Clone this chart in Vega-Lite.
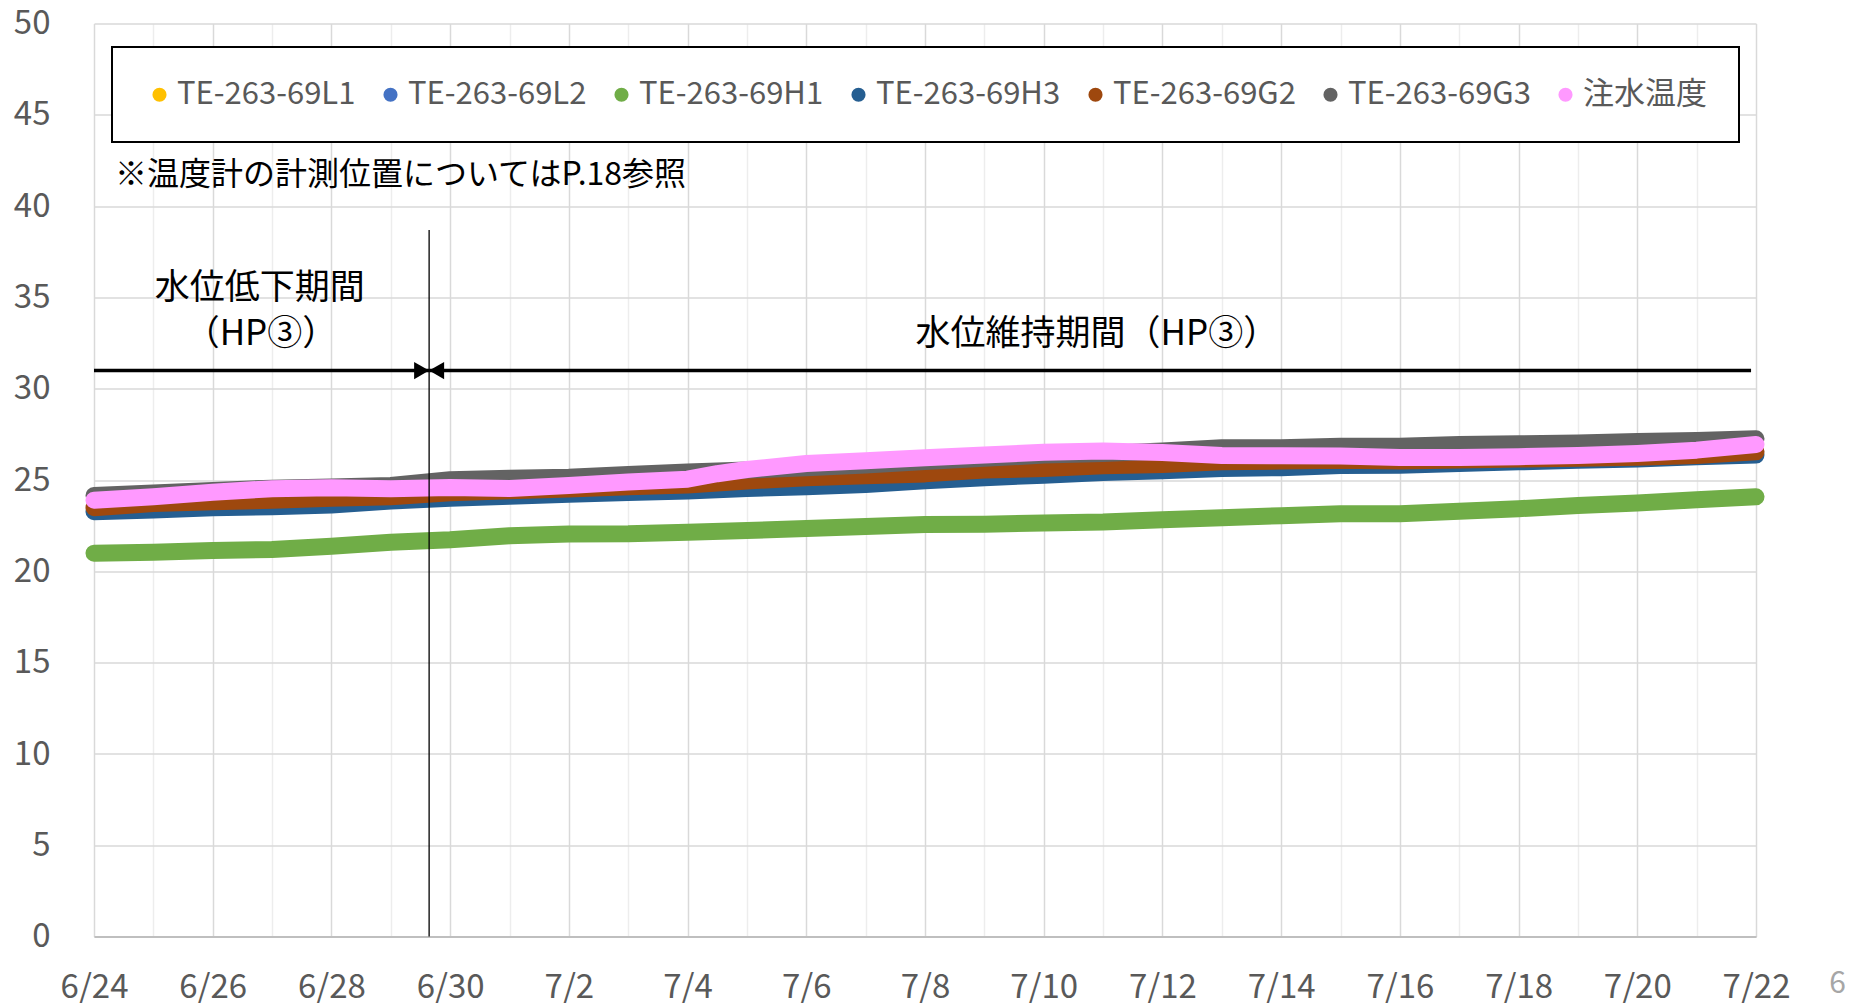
{
  "$schema": "https://vega.github.io/schema/vega-lite/v6.json",
  "width": 1662,
  "height": 913,
  "autosize": "none",
  "padding": {"left": 94, "top": 23.6, "right": 96, "bottom": 66.4},
  "background": "white",
  "config": {
    "view": {"stroke": null},
    "font": "Noto Sans CJK JP",
    "axis": {
      "labelFont": "Noto Sans CJK JP",
      "labelColor": "#595959",
      "labelFontSize": 33,
      "ticks": false,
      "title": null,
      "domain": false,
      "gridColor": "#D9D9D9",
      "gridWidth": 1.5
    }
  },
  "datasets": {
    "temps": [
      {"t": "2024-06-24T00:00", "s": "TE-263-69H1", "v": 21.0},
      {"t": "2024-06-25T00:00", "s": "TE-263-69H1", "v": 21.05},
      {"t": "2024-06-26T00:00", "s": "TE-263-69H1", "v": 21.15},
      {"t": "2024-06-27T00:00", "s": "TE-263-69H1", "v": 21.2},
      {"t": "2024-06-28T00:00", "s": "TE-263-69H1", "v": 21.38},
      {"t": "2024-06-29T00:00", "s": "TE-263-69H1", "v": 21.6},
      {"t": "2024-06-30T00:00", "s": "TE-263-69H1", "v": 21.73},
      {"t": "2024-07-01T00:00", "s": "TE-263-69H1", "v": 21.95},
      {"t": "2024-07-02T00:00", "s": "TE-263-69H1", "v": 22.05},
      {"t": "2024-07-03T00:00", "s": "TE-263-69H1", "v": 22.06},
      {"t": "2024-07-04T00:00", "s": "TE-263-69H1", "v": 22.15},
      {"t": "2024-07-05T00:00", "s": "TE-263-69H1", "v": 22.24},
      {"t": "2024-07-06T00:00", "s": "TE-263-69H1", "v": 22.35},
      {"t": "2024-07-07T00:00", "s": "TE-263-69H1", "v": 22.46},
      {"t": "2024-07-08T00:00", "s": "TE-263-69H1", "v": 22.57},
      {"t": "2024-07-09T00:00", "s": "TE-263-69H1", "v": 22.58},
      {"t": "2024-07-10T00:00", "s": "TE-263-69H1", "v": 22.65},
      {"t": "2024-07-11T00:00", "s": "TE-263-69H1", "v": 22.7},
      {"t": "2024-07-12T00:00", "s": "TE-263-69H1", "v": 22.83},
      {"t": "2024-07-13T00:00", "s": "TE-263-69H1", "v": 22.94},
      {"t": "2024-07-14T00:00", "s": "TE-263-69H1", "v": 23.05},
      {"t": "2024-07-15T00:00", "s": "TE-263-69H1", "v": 23.16},
      {"t": "2024-07-16T00:00", "s": "TE-263-69H1", "v": 23.16},
      {"t": "2024-07-17T00:00", "s": "TE-263-69H1", "v": 23.3},
      {"t": "2024-07-18T00:00", "s": "TE-263-69H1", "v": 23.43},
      {"t": "2024-07-19T00:00", "s": "TE-263-69H1", "v": 23.61},
      {"t": "2024-07-20T00:00", "s": "TE-263-69H1", "v": 23.74},
      {"t": "2024-07-21T00:00", "s": "TE-263-69H1", "v": 23.92},
      {"t": "2024-07-22T00:00", "s": "TE-263-69H1", "v": 24.09},

      {"t": "2024-06-24T00:00", "s": "TE-263-69H3", "v": 23.27},
      {"t": "2024-06-25T00:00", "s": "TE-263-69H3", "v": 23.36},
      {"t": "2024-06-26T00:00", "s": "TE-263-69H3", "v": 23.49},
      {"t": "2024-06-27T00:00", "s": "TE-263-69H3", "v": 23.54},
      {"t": "2024-06-28T00:00", "s": "TE-263-69H3", "v": 23.63},
      {"t": "2024-06-29T00:00", "s": "TE-263-69H3", "v": 23.85},
      {"t": "2024-06-30T00:00", "s": "TE-263-69H3", "v": 24.0},
      {"t": "2024-07-01T00:00", "s": "TE-263-69H3", "v": 24.12},
      {"t": "2024-07-02T00:00", "s": "TE-263-69H3", "v": 24.22},
      {"t": "2024-07-03T00:00", "s": "TE-263-69H3", "v": 24.32},
      {"t": "2024-07-04T00:00", "s": "TE-263-69H3", "v": 24.4},
      {"t": "2024-07-05T00:00", "s": "TE-263-69H3", "v": 24.54},
      {"t": "2024-07-06T00:00", "s": "TE-263-69H3", "v": 24.64},
      {"t": "2024-07-07T00:00", "s": "TE-263-69H3", "v": 24.76},
      {"t": "2024-07-08T00:00", "s": "TE-263-69H3", "v": 24.97},
      {"t": "2024-07-09T00:00", "s": "TE-263-69H3", "v": 25.13},
      {"t": "2024-07-10T00:00", "s": "TE-263-69H3", "v": 25.27},
      {"t": "2024-07-11T00:00", "s": "TE-263-69H3", "v": 25.42},
      {"t": "2024-07-12T00:00", "s": "TE-263-69H3", "v": 25.51},
      {"t": "2024-07-13T00:00", "s": "TE-263-69H3", "v": 25.64},
      {"t": "2024-07-14T00:00", "s": "TE-263-69H3", "v": 25.68},
      {"t": "2024-07-15T00:00", "s": "TE-263-69H3", "v": 25.8},
      {"t": "2024-07-16T00:00", "s": "TE-263-69H3", "v": 25.82},
      {"t": "2024-07-17T00:00", "s": "TE-263-69H3", "v": 25.91},
      {"t": "2024-07-18T00:00", "s": "TE-263-69H3", "v": 26.0},
      {"t": "2024-07-19T00:00", "s": "TE-263-69H3", "v": 26.09},
      {"t": "2024-07-20T00:00", "s": "TE-263-69H3", "v": 26.15},
      {"t": "2024-07-21T00:00", "s": "TE-263-69H3", "v": 26.28},
      {"t": "2024-07-22T00:00", "s": "TE-263-69H3", "v": 26.37},

      {"t": "2024-06-24T00:00", "s": "TE-263-69G2", "v": 23.49},
      {"t": "2024-06-25T00:00", "s": "TE-263-69G2", "v": 23.72},
      {"t": "2024-06-26T00:00", "s": "TE-263-69G2", "v": 23.81},
      {"t": "2024-06-27T00:00", "s": "TE-263-69G2", "v": 23.9},
      {"t": "2024-06-28T00:00", "s": "TE-263-69G2", "v": 24.0},
      {"t": "2024-06-29T00:00", "s": "TE-263-69G2", "v": 24.09},
      {"t": "2024-06-30T00:00", "s": "TE-263-69G2", "v": 24.31},
      {"t": "2024-07-01T00:00", "s": "TE-263-69G2", "v": 24.42},
      {"t": "2024-07-02T00:00", "s": "TE-263-69G2", "v": 24.51},
      {"t": "2024-07-03T00:00", "s": "TE-263-69G2", "v": 24.64},
      {"t": "2024-07-04T00:00", "s": "TE-263-69G2", "v": 24.73},
      {"t": "2024-07-05T00:00", "s": "TE-263-69G2", "v": 24.95},
      {"t": "2024-07-06T00:00", "s": "TE-263-69G2", "v": 25.13},
      {"t": "2024-07-07T00:00", "s": "TE-263-69G2", "v": 25.24},
      {"t": "2024-07-08T00:00", "s": "TE-263-69G2", "v": 25.34},
      {"t": "2024-07-09T00:00", "s": "TE-263-69G2", "v": 25.55},
      {"t": "2024-07-10T00:00", "s": "TE-263-69G2", "v": 25.64},
      {"t": "2024-07-11T00:00", "s": "TE-263-69G2", "v": 25.78},
      {"t": "2024-07-12T00:00", "s": "TE-263-69G2", "v": 25.86},
      {"t": "2024-07-13T00:00", "s": "TE-263-69G2", "v": 26.0},
      {"t": "2024-07-14T00:00", "s": "TE-263-69G2", "v": 26.04},
      {"t": "2024-07-15T00:00", "s": "TE-263-69G2", "v": 26.09},
      {"t": "2024-07-16T00:00", "s": "TE-263-69G2", "v": 26.05},
      {"t": "2024-07-17T00:00", "s": "TE-263-69G2", "v": 26.1},
      {"t": "2024-07-18T00:00", "s": "TE-263-69G2", "v": 26.15},
      {"t": "2024-07-19T00:00", "s": "TE-263-69G2", "v": 26.2},
      {"t": "2024-07-20T00:00", "s": "TE-263-69G2", "v": 26.25},
      {"t": "2024-07-21T00:00", "s": "TE-263-69G2", "v": 26.35},
      {"t": "2024-07-22T00:00", "s": "TE-263-69G2", "v": 26.55},

      {"t": "2024-06-24T00:00", "s": "TE-263-69G3", "v": 24.16},
      {"t": "2024-06-25T00:00", "s": "TE-263-69G3", "v": 24.29},
      {"t": "2024-06-26T00:00", "s": "TE-263-69G3", "v": 24.43},
      {"t": "2024-06-27T00:00", "s": "TE-263-69G3", "v": 24.56},
      {"t": "2024-06-28T00:00", "s": "TE-263-69G3", "v": 24.62},
      {"t": "2024-06-29T00:00", "s": "TE-263-69G3", "v": 24.71},
      {"t": "2024-06-30T00:00", "s": "TE-263-69G3", "v": 25.02},
      {"t": "2024-07-01T00:00", "s": "TE-263-69G3", "v": 25.1},
      {"t": "2024-07-02T00:00", "s": "TE-263-69G3", "v": 25.16},
      {"t": "2024-07-03T00:00", "s": "TE-263-69G3", "v": 25.31},
      {"t": "2024-07-04T00:00", "s": "TE-263-69G3", "v": 25.44},
      {"t": "2024-07-05T00:00", "s": "TE-263-69G3", "v": 25.55},
      {"t": "2024-07-06T00:00", "s": "TE-263-69G3", "v": 25.68},
      {"t": "2024-07-07T00:00", "s": "TE-263-69G3", "v": 25.82},
      {"t": "2024-07-08T00:00", "s": "TE-263-69G3", "v": 26.02},
      {"t": "2024-07-09T00:00", "s": "TE-263-69G3", "v": 26.19},
      {"t": "2024-07-10T00:00", "s": "TE-263-69G3", "v": 26.37},
      {"t": "2024-07-11T00:00", "s": "TE-263-69G3", "v": 26.46},
      {"t": "2024-07-12T00:00", "s": "TE-263-69G3", "v": 26.6},
      {"t": "2024-07-13T00:00", "s": "TE-263-69G3", "v": 26.77},
      {"t": "2024-07-14T00:00", "s": "TE-263-69G3", "v": 26.77},
      {"t": "2024-07-15T00:00", "s": "TE-263-69G3", "v": 26.86},
      {"t": "2024-07-16T00:00", "s": "TE-263-69G3", "v": 26.86},
      {"t": "2024-07-17T00:00", "s": "TE-263-69G3", "v": 26.95},
      {"t": "2024-07-18T00:00", "s": "TE-263-69G3", "v": 26.99},
      {"t": "2024-07-19T00:00", "s": "TE-263-69G3", "v": 27.03},
      {"t": "2024-07-20T00:00", "s": "TE-263-69G3", "v": 27.12},
      {"t": "2024-07-21T00:00", "s": "TE-263-69G3", "v": 27.17},
      {"t": "2024-07-22T00:00", "s": "TE-263-69G3", "v": 27.26},

      {"t": "2024-06-24T00:00", "s": "注水温度", "v": 23.9},
      {"t": "2024-06-25T00:00", "s": "注水温度", "v": 24.09},
      {"t": "2024-06-26T00:00", "s": "注水温度", "v": 24.34},
      {"t": "2024-06-27T00:00", "s": "注水温度", "v": 24.53},
      {"t": "2024-06-28T00:00", "s": "注水温度", "v": 24.58},
      {"t": "2024-06-29T00:00", "s": "注水温度", "v": 24.53},
      {"t": "2024-06-30T00:00", "s": "注水温度", "v": 24.6},
      {"t": "2024-07-01T00:00", "s": "注水温度", "v": 24.54},
      {"t": "2024-07-02T00:00", "s": "注水温度", "v": 24.71},
      {"t": "2024-07-03T00:00", "s": "注水温度", "v": 24.89},
      {"t": "2024-07-04T00:00", "s": "注水温度", "v": 25.05},
      {"t": "2024-07-04T12:00", "s": "注水温度", "v": 25.35},
      {"t": "2024-07-05T00:00", "s": "注水温度", "v": 25.58},
      {"t": "2024-07-06T00:00", "s": "注水温度", "v": 25.91},
      {"t": "2024-07-07T00:00", "s": "注水温度", "v": 26.06},
      {"t": "2024-07-08T00:00", "s": "注水温度", "v": 26.22},
      {"t": "2024-07-09T00:00", "s": "注水温度", "v": 26.37},
      {"t": "2024-07-10T00:00", "s": "注水温度", "v": 26.53},
      {"t": "2024-07-11T00:00", "s": "注水温度", "v": 26.59},
      {"t": "2024-07-12T00:00", "s": "注水温度", "v": 26.51},
      {"t": "2024-07-13T00:00", "s": "注水温度", "v": 26.35},
      {"t": "2024-07-14T00:00", "s": "注水温度", "v": 26.33},
      {"t": "2024-07-15T00:00", "s": "注水温度", "v": 26.32},
      {"t": "2024-07-16T00:00", "s": "注水温度", "v": 26.24},
      {"t": "2024-07-17T00:00", "s": "注水温度", "v": 26.24},
      {"t": "2024-07-18T00:00", "s": "注水温度", "v": 26.28},
      {"t": "2024-07-19T00:00", "s": "注水温度", "v": 26.35},
      {"t": "2024-07-20T00:00", "s": "注水温度", "v": 26.46},
      {"t": "2024-07-21T00:00", "s": "注水温度", "v": 26.64},
      {"t": "2024-07-22T00:00", "s": "注水温度", "v": 26.95}
    ],
    "periods": [
      {"t": "2024-06-24T00:00", "t2": "2024-06-29T15:30", "v": 31.0},
      {"t": "2024-06-29T15:30", "t2": "2024-07-21T22:00", "v": 31.0}
    ],
    "divider": [
      {"t": "2024-06-29T15:30", "v": 0, "v2": 38.7}
    ],
    "periodLabels": [
      {"t": "2024-06-26T19:00", "v": 35.5, "label": "水位低下期間"},
      {"t": "2024-06-26T19:30", "v": 33.0, "label": "（HP③）"},
      {"t": "2024-07-10T21:30", "v": 33.0, "label": "水位維持期間（HP③）"}
    ],
    "note": [
      {"t": "2024-06-24T08:30", "v": 41.7, "label": "※温度計の計測位置についてはP.18参照"}
    ],
    "page": [
      {"t": "2024-07-23T09:00", "v": -2.6, "label": "6"}
    ]
  },
  "resolve": {"axis": {"x": "independent"}},
  "layer": [
    {
      "data": {"name": "temps"},
      "transform": [{"filter": "datum.s === 'TE-263-69H1'"}],
      "mark": {"type": "line", "strokeWidth": 17, "strokeCap": "round", "strokeJoin": "round"},
      "encoding": {
        "x": {
          "field": "t", "type": "temporal",
          "scale": {"domain": [{"year": 2024, "month": 6, "date": 24}, {"year": 2024, "month": 7, "date": 22}], "nice": false},
          "axis": {
            "orient": "top", "labels": false, "domain": false, "ticks": false,
            "grid": true, "gridColor": "#EDEDED", "gridWidth": 1.5,
            "values": [
              {"year": 2024, "month": 6, "date": 25}, {"year": 2024, "month": 6, "date": 27},
              {"year": 2024, "month": 6, "date": 29}, {"year": 2024, "month": 7, "date": 1},
              {"year": 2024, "month": 7, "date": 3}, {"year": 2024, "month": 7, "date": 5},
              {"year": 2024, "month": 7, "date": 7}, {"year": 2024, "month": 7, "date": 9},
              {"year": 2024, "month": 7, "date": 11}, {"year": 2024, "month": 7, "date": 13},
              {"year": 2024, "month": 7, "date": 15}, {"year": 2024, "month": 7, "date": 17},
              {"year": 2024, "month": 7, "date": 19}, {"year": 2024, "month": 7, "date": 21}
            ]
          }
        },
        "y": {
          "field": "v", "type": "quantitative",
          "scale": {"domain": [0, 50], "nice": false},
          "axis": {"values": [0, 5, 10, 15, 20, 25, 30, 35, 40, 45, 50], "grid": true, "labelPadding": 44}
        },
        "color": {
          "field": "s", "type": "nominal",
          "scale": {
            "domain": ["TE-263-69L1", "TE-263-69L2", "TE-263-69H1", "TE-263-69H3", "TE-263-69G2", "TE-263-69G3", "注水温度"],
            "range": ["#FFC000", "#4472C4", "#70AD47", "#255E91", "#9E480E", "#636363", "#FF99FF"]
          },
          "legend": {
            "title": null,
            "orient": "none",
            "legendX": 18,
            "legendY": 23.4,
            "direction": "horizontal",
            "strokeColor": "#000000",
            "fillColor": "#FFFFFF",
            "padding": 32,
            "labelFont": "Noto Sans CJK JP",
            "labelFontSize": 31,
            "labelColor": "#595959",
            "symbolType": "circle",
            "symbolSize": 200,
            "symbolStrokeWidth": 0,
            "labelOffset": 2,
            "columnPadding": 19,
            "labelLimit": 400,
            "encode": {
              "legend": {"update": {"strokeWidth": {"value": 2}}},
              "symbols": {
                "update": {
                  "fill": {"scale": "color", "field": "value"},
                  "stroke": {"value": "transparent"},
                  "strokeWidth": {"value": 0},
                  "size": {"value": 200},
                  "opacity": {"value": 1}
                }
              }
            }
          }
        }
      }
    },
    {
      "data": {"name": "temps"},
      "transform": [{"filter": "datum.s === 'TE-263-69H3'"}],
      "mark": {"type": "line", "strokeWidth": 17, "strokeCap": "round", "strokeJoin": "round"},
      "encoding": {
        "x": {
          "field": "t", "type": "temporal",
          "axis": {
            "orient": "bottom", "format": "%-m/%-d", "labelPadding": 35,
            "labelFlush": false, "labelOverlap": false,
            "domain": true, "domainColor": "#BFBFBF", "domainWidth": 2,
            "grid": true, "gridColor": "#D9D9D9", "gridWidth": 1.5,
            "values": [
              {"year": 2024, "month": 6, "date": 24}, {"year": 2024, "month": 6, "date": 26},
              {"year": 2024, "month": 6, "date": 28}, {"year": 2024, "month": 6, "date": 30},
              {"year": 2024, "month": 7, "date": 2}, {"year": 2024, "month": 7, "date": 4},
              {"year": 2024, "month": 7, "date": 6}, {"year": 2024, "month": 7, "date": 8},
              {"year": 2024, "month": 7, "date": 10}, {"year": 2024, "month": 7, "date": 12},
              {"year": 2024, "month": 7, "date": 14}, {"year": 2024, "month": 7, "date": 16},
              {"year": 2024, "month": 7, "date": 18}, {"year": 2024, "month": 7, "date": 20},
              {"year": 2024, "month": 7, "date": 22}
            ]
          }
        },
        "y": {"field": "v", "type": "quantitative"},
        "color": {"field": "s", "type": "nominal"}
      }
    },
    {
      "data": {"name": "temps"},
      "transform": [{"filter": "datum.s === 'TE-263-69G2'"}],
      "mark": {"type": "line", "strokeWidth": 17, "strokeCap": "round", "strokeJoin": "round"},
      "encoding": {
        "x": {"field": "t", "type": "temporal", "axis": null},
        "y": {"field": "v", "type": "quantitative"},
        "color": {"field": "s", "type": "nominal"}
      }
    },
    {
      "data": {"name": "temps"},
      "transform": [{"filter": "datum.s === 'TE-263-69G3'"}],
      "mark": {"type": "line", "strokeWidth": 17, "strokeCap": "round", "strokeJoin": "round"},
      "encoding": {
        "x": {"field": "t", "type": "temporal", "axis": null},
        "y": {"field": "v", "type": "quantitative"},
        "color": {"field": "s", "type": "nominal"}
      }
    },
    {
      "data": {"name": "temps"},
      "transform": [{"filter": "datum.s === '注水温度'"}],
      "mark": {"type": "line", "strokeWidth": 17, "strokeCap": "round", "strokeJoin": "round"},
      "encoding": {
        "x": {"field": "t", "type": "temporal", "axis": null},
        "y": {"field": "v", "type": "quantitative"},
        "color": {"field": "s", "type": "nominal"}
      }
    },
    {
      "data": {"name": "periods"},
      "mark": {"type": "rule", "color": "#000000", "strokeWidth": 3.5},
      "encoding": {
        "x": {"field": "t", "type": "temporal", "axis": null},
        "x2": {"field": "t2"},
        "y": {"field": "v", "type": "quantitative"}
      }
    },
    {
      "data": {"name": "divider"},
      "mark": {"type": "point", "shape": "triangle-right", "filled": true, "size": 300, "color": "#000000", "opacity": 1, "xOffset": -7.5},
      "encoding": {
        "x": {"field": "t", "type": "temporal", "axis": null},
        "y": {"datum": 31.0, "type": "quantitative"}
      }
    },
    {
      "data": {"name": "divider"},
      "mark": {"type": "point", "shape": "triangle-left", "filled": true, "size": 300, "color": "#000000", "opacity": 1, "xOffset": 7.5},
      "encoding": {
        "x": {"field": "t", "type": "temporal", "axis": null},
        "y": {"datum": 31.0, "type": "quantitative"}
      }
    },
    {
      "data": {"name": "divider"},
      "mark": {"type": "rule", "color": "#000000", "strokeWidth": 1.3},
      "encoding": {
        "x": {"field": "t", "type": "temporal", "axis": null},
        "y": {"field": "v", "type": "quantitative"},
        "y2": {"field": "v2"}
      }
    },
    {
      "data": {"name": "periodLabels"},
      "mark": {"type": "text", "font": "Noto Sans CJK JP", "fontSize": 35, "color": "#000000", "align": "center", "baseline": "middle"},
      "encoding": {
        "x": {"field": "t", "type": "temporal", "axis": null},
        "y": {"field": "v", "type": "quantitative"},
        "text": {"field": "label"}
      }
    },
    {
      "data": {"name": "note"},
      "mark": {"type": "text", "font": "Noto Sans CJK JP", "fontSize": 32, "color": "#000000", "align": "left", "baseline": "middle"},
      "encoding": {
        "x": {"field": "t", "type": "temporal", "axis": null},
        "y": {"field": "v", "type": "quantitative"},
        "text": {"field": "label"}
      }
    },
    {
      "data": {"name": "page"},
      "mark": {"type": "text", "font": "Noto Sans CJK JP", "fontSize": 30, "color": "#A6A6A6", "align": "center", "baseline": "middle"},
      "encoding": {
        "x": {
          "field": "t", "type": "temporal", "axis": null,
          "scale": {"domain": [{"year": 2024, "month": 6, "date": 24}, {"year": 2024, "month": 7, "date": 22}], "nice": false}
        },
        "y": {"field": "v", "type": "quantitative", "scale": {"domain": [0, 50], "nice": false}},
        "text": {"field": "label"}
      }
    }
  ]
}
